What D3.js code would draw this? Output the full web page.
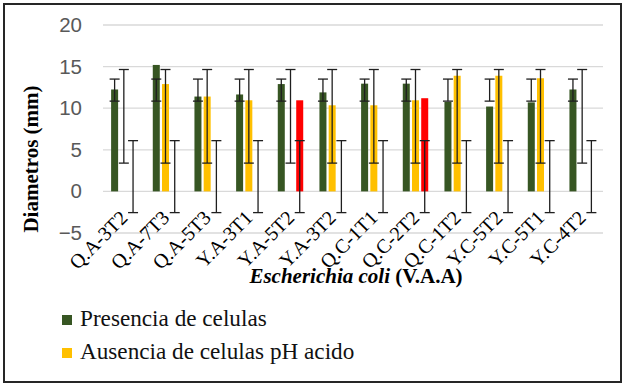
<!DOCTYPE html>
<html>
<head>
<meta charset="utf-8">
<script src="https://cdn.jsdelivr.net/npm/d3@7"></script>
<style>
  body { margin: 0; background: #fff; }
  svg { display: block; }
</style>
</head>
<body>
<div id="chart"></div>
<script>
// categories on the x axis
var categories = ["Q.A-3T2", "Q.A-7T3", "Q.A-5T3", "Y.A-3T1", "Y.A-5T2", "Y.A-3T2",
                  "Q.C-1T1", "Q.C-2T2", "Q.C-1T2", "Y.C-5T2", "Y.C-5T1", "Y.C-4T2"];

// series values (mm)
var presencia = [12.25, 15.2, 11.4, 11.65, 12.9, 11.9, 12.95, 12.95, 10.75, 10.2, 10.7, 12.25];
var ausenciaAcido = [0, 12.9, 11.4, 10.95, 0, 10.35, 10.35, 10.95, 13.9, 13.9, 13.6, 0];
var ausenciaOtro = [0, 0, 0, 0, 10.95, 0, 0, 11.2, 0, 0, 0, 0];

// error bars: same low / high for every category of a series
var errLow = [10.85, 3.4, -2.55];
var errHigh = [13.5, 14.65, 6.1];

var seriesNames = ["Presencia de celulas", "Ausencia de celulas pH acido", ""];
var seriesColors = ["#375623", "#ffc000", "#ff0000"];
var yTicks = [-5, 0, 5, 10, 15, 20];

var W = 625, H = 385;
var plot = { left: 103, right: 603, top: 25, bottom: 233 };

var svg = d3.select("#chart").append("svg")
	.attr("width", W)
	.attr("height", H);

// outer frame
svg.append("rect")
	.attr("x", 4).attr("y", 4)
	.attr("width", 617).attr("height", 378)
	.attr("fill", "#fff")
	.attr("stroke", "#262626")
	.attr("stroke-width", 2);

var x = d3.scaleBand()
	.domain(categories)
	.range([plot.left, plot.right]);

var xs = d3.scaleBand()
	.domain([0, 1, 2])
	.range([0, x.bandwidth()])
	.paddingInner(0.24)
	.paddingOuter(0.88);

var y = d3.scaleLinear()
	.domain([-5, 20])
	.range([plot.bottom, plot.top]);

// gridlines
svg.append("g")
	.selectAll("line")
	.data(yTicks)
	.enter().append("line")
	.attr("x1", plot.left)
	.attr("x2", plot.right)
	.attr("y1", function(d) { return y(d); })
	.attr("y2", function(d) { return y(d); })
	.attr("stroke", "#d9d9d9")
	.attr("stroke-width", 1.3);

// y axis labels
var yAxis = svg.append("g")
	.attr("transform", "translate(" + (plot.left - 11) + ",0)")
	.call(d3.axisLeft(y).tickValues(yTicks).tickSize(0).tickPadding(10));
yAxis.select(".domain").remove();
yAxis.selectAll("text")
	.attr("fill", "#595959")
	.style("font-family", "'Liberation Sans', Arial, sans-serif")
	.style("font-size", "20.5px");

var data = [presencia, ausenciaAcido, ausenciaOtro];

// bars
data.forEach(function(vals, s) {
	var pts = vals.map(function(v, i) { return { cat: categories[i], v: v }; })
		.filter(function(d) { return d.v > 0; });
	svg.append("g")
		.selectAll("rect")
		.data(pts)
		.enter().append("rect")
		.attr("x", function(d) { return x(d.cat) + xs(s); })
		.attr("y", function(d) { return y(d.v); })
		.attr("width", xs.bandwidth())
		.attr("height", function(d) { return y(0) - y(d.v); })
		.attr("fill", seriesColors[s]);
});

// error bars
var cap = 5;
data.forEach(function(vals, s) {
	var g = svg.append("g").attr("stroke", "#1f1f1f").attr("stroke-width", 1.3);
	categories.forEach(function(c) {
		var cx = x(c) + xs(s) + xs.bandwidth() / 2;
		g.append("line")
			.attr("x1", cx).attr("x2", cx)
			.attr("y1", y(errLow[s])).attr("y2", y(errHigh[s]));
		[errLow[s], errHigh[s]].forEach(function(v) {
			g.append("line")
				.attr("x1", cx - cap).attr("x2", cx + cap)
				.attr("y1", y(v)).attr("y2", y(v));
		});
	});
});

// x labels
svg.append("g")
	.selectAll("text")
	.data(categories)
	.enter().append("text")
	.text(function(d) { return d; })
	.attr("transform", function(d) {
		return "translate(" + (x(d) + x.bandwidth() / 2 + 5) + ",219) rotate(-45)";
	})
	.style("text-anchor", "end")
	.style("font-family", "'Liberation Serif', 'Times New Roman', serif")
	.style("font-size", "20px")
	.attr("fill", "#000");

// x title
var xt = svg.append("text")
	.attr("x", 356)
	.attr("y", 283)
	.style("text-anchor", "middle")
	.style("font-family", "'Liberation Serif', 'Times New Roman', serif")
	.style("font-size", "21px")
	.style("font-weight", "bold")
	.attr("fill", "#000");
xt.append("tspan").style("font-style", "italic").text("Escherichia coli");
xt.append("tspan").text(" (V.A.A)");

// y title
svg.append("text")
	.attr("transform", "translate(38,159) rotate(-90)")
	.style("text-anchor", "middle")
	.style("font-family", "'Liberation Serif', 'Times New Roman', serif")
	.style("font-size", "21px")
	.style("font-weight", "bold")
	.attr("fill", "#000")
	.text("Diametros (mm)");

// legend
var legend = svg.append("g")
	.selectAll("g")
	.data([0, 1])
	.enter().append("g")
	.attr("transform", function(d) { return "translate(62," + (315 + d * 33) + ")"; });
legend.append("rect")
	.attr("width", 10).attr("height", 10)
	.attr("fill", function(d) { return seriesColors[d]; });
legend.append("text")
	.attr("x", 18)
	.attr("y", 11)
	.style("font-family", "'Liberation Serif', 'Times New Roman', serif")
	.style("font-size", "23.2px")
	.attr("fill", "#111")
	.text(function(d) { return seriesNames[d]; });
</script>
</body>
</html>
